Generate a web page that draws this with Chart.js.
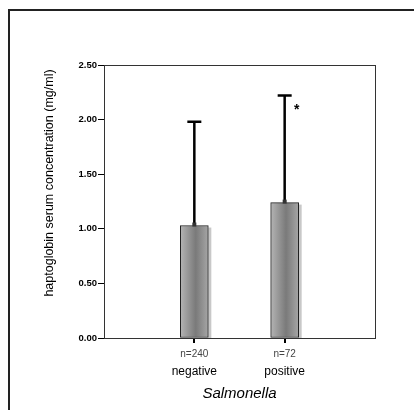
<!DOCTYPE html>
<html>
<head>
<meta charset="utf-8">
<script src="https://cdn.jsdelivr.net/npm/chart.js@4"></script>
<style>
  body { margin: 0; background: #fff; }
  #wrap { width: 414px; height: 410px; }
</style>
</head>
<body>
<div id="wrap"><canvas id="hpChart"></canvas></div>
<script>
const categories = ['negative', 'positive'];
const counts = ['n=240', 'n=72'];
const means = [1.03, 1.24];
const errorTops = [1.98, 2.22];
const significant = [false, true];
const yTicks = [0, 0.5, 1, 1.5, 2, 2.5];

// empty slots on both sides so the bars sit at 1/3 and 2/3 of the plot
const labels = [''].concat(categories, ['']);
const barData = [null].concat(means, [null]);

const BAR_W = 28;

function barGradient(context) {
    const chart = context.chart;
    const xs = chart.scales.x;
    if (!xs || context.dataIndex == null) return '#999';
    const x = xs.getPixelForValue(context.dataIndex);
    if (!isFinite(x)) return '#999';
    const g = chart.ctx.createLinearGradient(x - BAR_W / 2, 0, x + BAR_W / 2, 0);
    g.addColorStop(0, '#b4b4b4');
    g.addColorStop(0.55, '#7a7a7a');
    g.addColorStop(1, '#a6a6a6');
    return g;
}

const extras = {
    id: 'extras',
    beforeDatasetsDraw(chart) {
        const ctx = chart.ctx;
        const xs = chart.scales.x, ys = chart.scales.y;
        ctx.save();
        ctx.fillStyle = '#c8c8c8';
        means.forEach((m, i) => {
            const x = xs.getPixelForValue(i + 1);
            const top = ys.getPixelForValue(m);
            ctx.fillRect(x + BAR_W / 2, top + 2, 3, ys.bottom - top - 2);
        });
        ctx.restore();
    },
    afterDatasetsDraw(chart) {
        const ctx = chart.ctx;
        const xs = chart.scales.x, ys = chart.scales.y;
        const a = chart.chartArea;
        ctx.save();
        // error bars
        ctx.strokeStyle = '#000';
        ctx.lineWidth = 2.5;
        means.forEach((m, i) => {
            const x = xs.getPixelForValue(i + 1);
            const y0 = ys.getPixelForValue(m);
            const y1 = ys.getPixelForValue(errorTops[i]);
            ctx.beginPath();
            ctx.moveTo(x, y0);
            ctx.lineTo(x, y1);
            ctx.moveTo(x - 7, y1);
            ctx.lineTo(x + 7, y1);
            ctx.stroke();
            ctx.fillStyle = '#333';
            ctx.fillRect(x - 2, y0 - 3, 4, 4);
            if (significant[i]) {
                ctx.fillStyle = '#000';
                ctx.font = 'bold 14px Arial';
                ctx.textAlign = 'center';
                ctx.textBaseline = 'top';
                ctx.fillText('*', x + 12, y1 + 8);
            }
        });
        // plot box
        ctx.strokeStyle = '#333';
        ctx.lineWidth = 1;
        ctx.strokeRect(a.left + 0.5, a.top + 0.5, a.right - a.left, a.bottom - a.top);
        // n= labels
        ctx.fillStyle = '#444';
        ctx.font = '10px Arial';
        ctx.textAlign = 'center';
        ctx.textBaseline = 'middle';
        counts.forEach((c, i) => {
            ctx.fillText(c, xs.getPixelForValue(i + 1), a.bottom + 16);
        });
        // y title
        ctx.fillStyle = '#000';
        ctx.font = '12.5px Arial';
        ctx.translate(50, 183);
        ctx.rotate(-Math.PI / 2);
        ctx.fillText('haptoglobin serum concentration (mg/ml)', 0, 0);
        ctx.restore();
        // outer frame
        ctx.save();
        ctx.strokeStyle = '#222';
        ctx.lineWidth = 2;
        ctx.beginPath();
        ctx.moveTo(9, 410);
        ctx.lineTo(9, 10);
        ctx.lineTo(414, 10);
        ctx.stroke();
        ctx.restore();
    }
};

new Chart(document.getElementById('hpChart'), {
    type: 'bar',
    data: {
        labels: labels,
        datasets: [{
            data: barData,
            backgroundColor: barGradient,
            borderColor: '#222',
            borderWidth: 1,
            borderSkipped: false,
            barThickness: BAR_W
        }]
    },
    options: {
        responsive: true,
        maintainAspectRatio: false,
        animation: false,
        layout: { padding: { top: 65, right: 39, left: 0, bottom: 0 } },
        plugins: { legend: { display: false }, tooltip: { enabled: false } },
        scales: {
            x: {
                offset: false,
                afterFit(scale) { scale.height = 72; },
                grid: {
                    offset: false,
                    drawOnChartArea: false,
                    tickLength: 5,
                    lineWidth: 2,
                    color: ctx => (ctx.index === 0 || ctx.index === labels.length - 1) ? 'rgba(0,0,0,0)' : '#000'
                },
                border: { display: true, color: '#333', width: 1 },
                ticks: {
                    padding: 21,
                    maxRotation: 0,
                    autoSkip: false,
                    color: '#000',
                    font: { family: 'Arial', size: 12 }
                },
                title: {
                    display: true,
                    text: 'Salmonella',
                    color: '#000',
                    font: { family: 'Arial', size: 15, style: 'italic' },
                    padding: { top: 4, bottom: 7 }
                }
            },
            y: {
                min: 0,
                max: 2.5,
                afterFit(scale) { scale.width = 104; },
                afterBuildTicks(scale) { scale.ticks = yTicks.map(v => ({ value: v })); },
                grid: { drawOnChartArea: false, tickLength: 6, color: '#000' },
                border: { display: true, color: '#333', width: 1 },
                ticks: {
                    padding: 1,
                    color: '#000',
                    font: { family: 'Arial', size: 9.5, weight: 'bold' },
                    callback: v => Number(v).toFixed(2)
                }
            }
        }
    },
    plugins: [extras]
});
</script>
</body>
</html>
